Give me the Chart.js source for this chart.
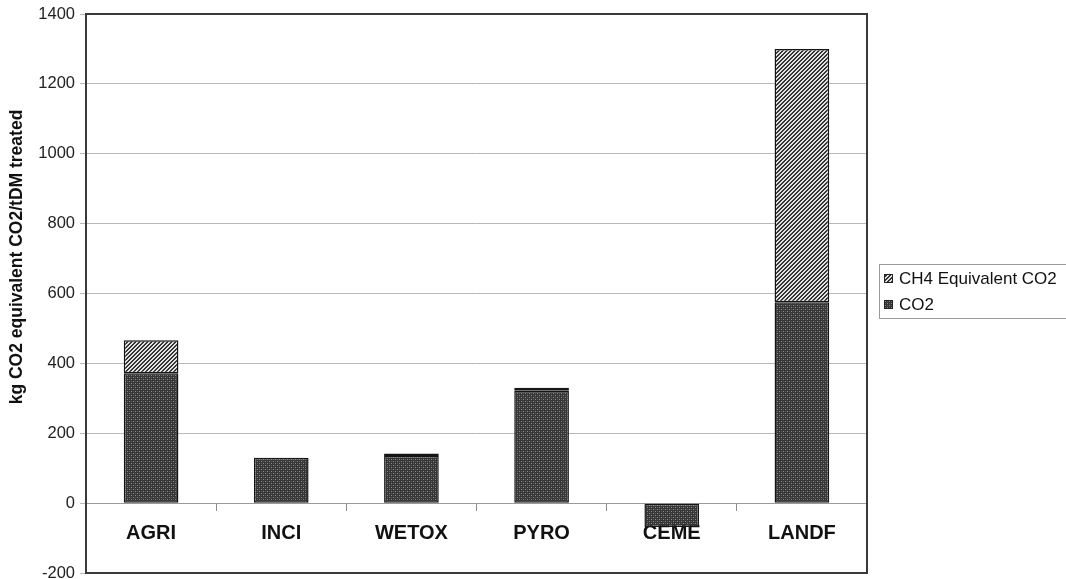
<!DOCTYPE html>
<html>
<head>
<meta charset="utf-8">
<script src="https://cdn.jsdelivr.net/npm/chart.js@4/dist/chart.umd.min.js"></script>
<style>
  html, body { margin: 0; padding: 0; background: #fff; overflow: hidden; }
  canvas { display: block; }
</style>
</head>
<body>
<canvas id="c" width="1066" height="579"></canvas>
<script>
// Emissions per tonne of dry matter treated, by sludge route
const categories = ['AGRI', 'INCI', 'WETOX', 'PYRO', 'CEME', 'LANDF'];
const co2Values = [372, 130, 135, 322, -68, 575];
const ch4Values = [94, 0, 7, 8, 0, 725];
const yTicks = [-200, 0, 200, 400, 600, 800, 1000, 1200, 1400];
const co2Label = 'CO2';
const ch4Label = 'CH4 Equivalent CO2';
const yTitle = 'kg CO2 equivalent CO2/tDM treated';

const FONT = '"Liberation Sans", Arial, Helvetica, sans-serif';

// Dark stippled fill for the CO2 segments
function makeDotPattern() {
  const s = 4;
  const c = document.createElement('canvas');
  c.width = s; c.height = s;
  const g = c.getContext('2d');
  g.fillStyle = '#363636';
  g.fillRect(0, 0, s, s);
  g.fillStyle = '#8a8a8a';
  g.fillRect(1, 1, 1, 1);
  g.fillRect(3, 3, 1, 1);
  g.fillStyle = '#5a5a5a';
  g.fillRect(1, 3, 1, 1);
  g.fillRect(3, 1, 1, 1);
  return g.createPattern(c, 'repeat');
}

// Diagonal hatching for the CH4 segments
function makeHatchPattern() {
  const s = 4;
  const c = document.createElement('canvas');
  c.width = s; c.height = s;
  const g = c.getContext('2d');
  g.fillStyle = '#e2e2e2';
  g.fillRect(0, 0, s, s);
  g.fillStyle = '#343434';
  for (let y = 0; y < s; y++) {
    for (let x = 0; x < s; x++) {
      if ((x + y) % s < 2) g.fillRect(x, y, 1, 1);
    }
  }
  return g.createPattern(c, 'repeat');
}

const co2Fill = makeDotPattern();
const ch4Fill = makeHatchPattern();

// Frame around the plot, rotated axis title and boxed legend
const decorations = {
  id: 'decorations',
  afterDraw(chart) {
    const { ctx, chartArea: a } = chart;
    ctx.save();
    ctx.strokeStyle = '#3a3a3a';
    ctx.lineWidth = 2;
    ctx.strokeRect(a.left, a.top, a.right - a.left, a.bottom - a.top);

    ctx.translate(17, 257);
    ctx.rotate(-Math.PI / 2);
    ctx.fillStyle = '#111';
    ctx.font = 'bold 17.5px ' + FONT;
    ctx.textAlign = 'center';
    ctx.textBaseline = 'middle';
    ctx.fillText(yTitle, 0, 0);
    ctx.restore();

    ctx.save();
    ctx.strokeStyle = '#9a9a9a';
    ctx.lineWidth = 1;
    ctx.strokeRect(879.5, 264.5, 220, 54);
    const items = [
      { label: ch4Label, fill: ch4Fill, y: 279 },
      { label: co2Label, fill: co2Fill, y: 305 }
    ];
    ctx.font = '17px ' + FONT;
    ctx.textBaseline = 'middle';
    ctx.textAlign = 'left';
    items.forEach(it => {
      ctx.fillStyle = it.fill;
      ctx.fillRect(884, it.y - 5, 9, 9);
      ctx.strokeStyle = '#222';
      ctx.strokeRect(884.5, it.y - 4.5, 8, 8);
      ctx.fillStyle = '#111';
      ctx.fillText(it.label, 899, it.y);
    });
    ctx.restore();
  }
};

new Chart(document.getElementById('c'), {
  type: 'bar',
  data: {
    labels: categories,
    datasets: [
      {
        label: co2Label,
        data: co2Values,
        backgroundColor: co2Fill,
        borderColor: '#151515',
        borderWidth: 1.5,
        borderSkipped: false
      },
      {
        label: ch4Label,
        data: ch4Values,
        backgroundColor: ch4Fill,
        borderColor: '#151515',
        borderWidth: 1.5,
        borderSkipped: false
      }
    ]
  },
  options: {
    responsive: false,
    animation: false,
    devicePixelRatio: 1,
    layout: { padding: { top: 14, right: 199, bottom: 6, left: 0 } },
    datasets: { bar: { categoryPercentage: 1, barPercentage: 0.42 } },
    plugins: {
      legend: { display: false },
      tooltip: { enabled: false }
    },
    scales: {
      x: {
        stacked: true,
        position: { y: 0 },
        grid: {
          display: true,
          drawOnChartArea: false,
          drawTicks: true,
          tickLength: 7,
          color: '#8a8a8a',
          lineWidth: 1
        },
        border: { display: true, color: '#9a9a9a', width: 1 },
        ticks: {
          padding: 11,
          color: '#111',
          font: { family: FONT, size: 20, weight: 'bold' },
          maxRotation: 0,
          autoSkip: false
        },
        afterFit(s) { s.paddingLeft = 0; s.paddingRight = 0; s.paddingTop = 0; s.paddingBottom = 0; }
      },
      y: {
        stacked: true,
        min: -200,
        max: 1400,
        afterBuildTicks(s) { s.ticks = yTicks.map(v => ({ value: v })); },
        grid: {
          color: '#b8b8b8',
          lineWidth: 1,
          tickLength: 6
        },
        border: { display: false },
        ticks: {
          padding: 5,
          color: '#222',
          font: { family: FONT, size: 16.5 },
          callback: v => String(v)
        },
        afterFit(s) { s.width = 86; s.paddingTop = 0; s.paddingBottom = 0; }
      }
    }
  },
  plugins: [decorations]
});
</script>
</body>
</html>
